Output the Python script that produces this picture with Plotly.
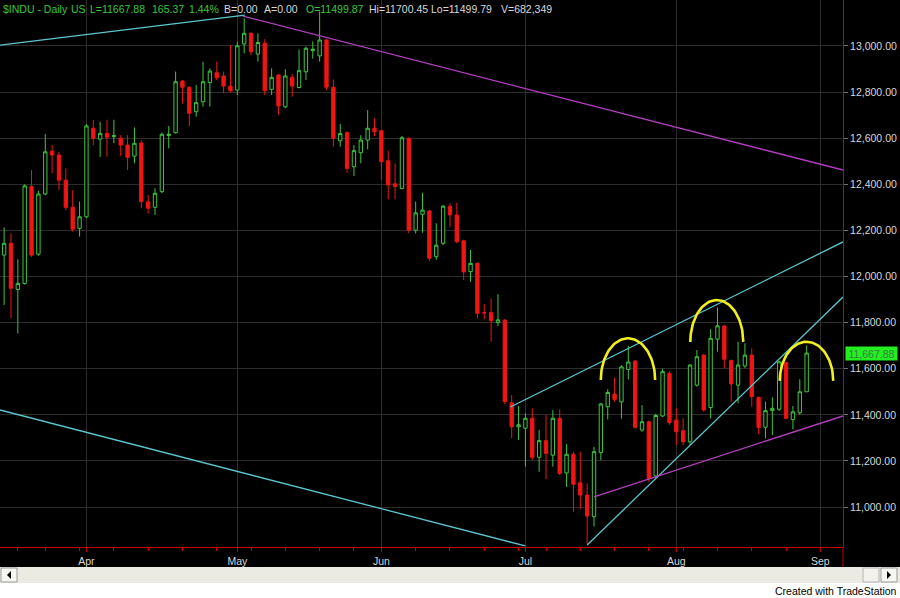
import numpy as np
import plotly.graph_objects as go

# ---------------- data ($INDU daily, 13 Mar - 28 Aug 2008) ----------------
opens = [12093, 12144, 11944, 11970, 12390, 12097, 12358, 12544, 12527, 12418,
         12300, 12209, 12259, 12643, 12596, 12621, 12607, 12600, 12570, 12522,
         12579, 12324, 12300, 12368, 12612, 12624, 12848, 12821, 12715, 12758,
         12841, 12884, 12870, 12826, 12809, 13009, 13055, 12965, 13012, 12812,
         12874, 12736, 12864, 12820, 12888, 12980, 12957, 13026, 12821, 12589,
         12624, 12476, 12537, 12592, 12643, 12632, 12502, 12402, 12382, 12599,
         12201, 12270, 12284, 12086, 12144, 12305, 12267, 12155, 12021, 12057,
         11843, 11843, 11800, 11811, 11452, 11348, 11342, 11385, 11216, 11288,
         11225, 11385, 11148, 11229, 11105, 11052, 10958, 11236, 11435, 11490,
         11456, 11597, 11633, 11334, 11370, 11135, 11395, 11580, 11377, 11331,
         11283, 11529, 11659, 11432, 11728, 11785, 11635, 11529, 11612, 11659,
         11475, 11346, 11418, 11424, 11626, 11380, 11409, 11499.87]
highs = [12213, 12187, 12075, 12400, 12462, 12372, 12618, 12570, 12541, 12469,
         12375, 12325, 12662, 12679, 12671, 12680, 12680, 12613, 12613, 12647,
         12590, 12354, 12383, 12625, 12653, 12889, 12852, 12825, 12831, 12932,
         12903, 12932, 12889, 13004, 13019, 13120, 13060, 13055, 13029, 12903,
         12878, 12899, 12878, 12985, 12997, 13020, 13150, 13030, 12855, 12662,
         12630, 12570, 12613, 12722, 12686, 12636, 12546, 12491, 12610, 12605,
         12325, 12363, 12290, 12231, 12310, 12318, 12320, 12160, 12115, 12062,
         11880, 11905, 11923, 11815, 11486, 11438, 11407, 11428, 11334, 11399,
         11420, 11424, 11273, 11240, 11240, 11103, 11261, 11452, 11511, 11562,
         11615, 11699, 11638, 11442, 11375, 11405, 11600, 11590, 11428, 11385,
         11620, 11681, 11664, 11771, 11866, 11790, 11640, 11717, 11710, 11688,
         11480, 11457, 11476, 11635, 11630, 11438, 11554, 11700.45]
lows = [11876, 11819, 11753, 11965, 12085, 12090, 12352, 12448, 12375, 12288,
        12194, 12173, 12254, 12570, 12519, 12519, 12578, 12523, 12462, 12491,
        12296, 12274, 12267, 12362, 12556, 12620, 12751, 12653, 12693, 12737,
        12737, 12852, 12795, 12797, 12787, 12968, 12960, 12932, 12787, 12787,
        12701, 12730, 12780, 12816, 12852, 12945, 12932, 12808, 12563, 12563,
        12450, 12436, 12491, 12552, 12609, 12420, 12335, 12335, 12378, 12187,
        12187, 12190, 12066, 12072, 12136, 12215, 12144, 11985, 11977, 11819,
        11814, 11717, 11785, 11445, 11298, 11291, 11175, 11204, 11153, 11120,
        11175, 11139, 11087, 10979, 10990, 10840, 10915, 11204, 11380, 11456,
        11384, 11553, 11340, 11326, 11110, 11126, 11390, 11357, 11269, 11269,
        11270, 11522, 11414, 11384, 11674, 11602, 11457, 11450, 11602, 11435,
        11317, 11298, 11312, 11417, 11380, 11337, 11399, 11499.79]
closes = [12144, 11949, 11970, 12393, 12093, 12358, 12541, 12527, 12418, 12300,
          12205, 12259, 12653, 12600, 12621, 12604, 12611, 12570, 12517, 12578,
          12325, 12296, 12361, 12617, 12617, 12845, 12821, 12708, 12754, 12845,
          12891, 12862, 12826, 12806, 13001, 13055, 12975, 13015, 12806, 12864,
          12740, 12870, 12826, 12893, 12990, 12986, 13026, 12821, 12600, 12620,
          12469, 12546, 12592, 12643, 12628, 12498, 12397, 12390, 12602, 12201,
          12276, 12288, 12079, 12136, 12305, 12267, 12151, 12020, 12057, 11840,
          11842, 11808, 11812, 11457, 11348, 11357, 11385, 11216, 11288, 11233,
          11385, 11146, 11229, 11099, 11052, 10961, 11240, 11447, 11497, 11467,
          11608, 11629, 11346, 11370, 11124, 11397, 11587, 11366, 11327, 11283,
          11616, 11652, 11421, 11732, 11786, 11641, 11534, 11616, 11659, 11479,
          11345, 11418, 11428, 11630, 11385, 11413, 11500, 11667.88]

month_labels = ["Apr", "May", "Jun", "Jul", "Aug", "Sep"]
month_bar_index = [12, 34, 55, 76, 98, 119]          # first trading bar of each month
monday_bar_index = [2, 6, 11, 16, 21, 26, 31, 36, 41, 46, 51, 55, 60, 65, 70, 75,
                    79, 84, 89, 94, 99, 104, 109, 114, 119]
price_ticks = [11000, 11200, 11400, 11600, 11800, 12000, 12200, 12400, 12600, 12800, 13000]

# hand-drawn trendlines: (bar index, price) endpoints
trend_x = [[-0.6, 35.1], [34.8, 122.3], [-0.6, 76.0], [73.8, 122.3], [85.0, 122.3], [86.0, 122.3]]
trend_y = [[13004, 13134], [13130, 12462], [11421, 10831], [11434, 12150], [10835, 11911], [11044, 11395]]
trend_col = ["#5cc6cf", "#b43fc0", "#5cc6cf", "#5cc6cf", "#5cc6cf", "#b43fc0"]

# yellow arches: centre bar index, base price, half width (bars), height (points)
arc_cx = [90.95, 103.9, 116.98]
arc_base = [11551, 11716, 11547]
arc_rx = [3.96, 3.86, 3.9]
arc_ry = [181, 182, 170]

last_price = 11667.88

# ---------------- styling ----------------
UP = "#3fc63f"
DN = "#ee1515"
GRID = "#2c2c2c"
AXRED = "#c80000"
TXT = "#d8d8d8"
GREEN_TXT = "#38c838"
FONT = "Liberation Sans, Arial, sans-serif"
FS = 10.5

PLOT_R = 843.0
PLOT_B = 547.0


def px(xp):
    return xp / PLOT_R


def py(yp):
    return (PLOT_B - yp) / PLOT_B


fig = go.Figure()

fig.add_trace(go.Candlestick(
    x=list(range(len(opens))), open=opens, high=highs, low=lows, close=closes,
    increasing=dict(line=dict(color=UP, width=1), fillcolor="black"),
    decreasing=dict(line=dict(color=DN, width=1), fillcolor=DN),
    whiskerwidth=0, hoverinfo="skip", showlegend=False,
))

for tx, ty, tc in zip(trend_x, trend_y, trend_col):
    fig.add_trace(go.Scatter(x=tx, y=ty, mode="lines", line=dict(color=tc, width=1.3),
                             hoverinfo="skip", showlegend=False))

theta = np.linspace(0, np.pi, 60)
for cx, cb, rx, ry in zip(arc_cx, arc_base, arc_rx, arc_ry):
    fig.add_trace(go.Scatter(x=cx + rx * np.cos(theta), y=cb + ry * np.sin(theta), mode="lines",
                             line=dict(color="#f2f01c", width=2.6), hoverinfo="skip", showlegend=False))

fig.update_layout(
    width=900, height=598,
    margin=dict(l=0, r=57, t=0, b=51),
    paper_bgcolor="black", plot_bgcolor="black",
    showlegend=False,
    xaxis=dict(
        range=[-0.6, 122.3], tickvals=month_bar_index, ticktext=month_labels,
        showgrid=True, gridcolor=GRID, gridwidth=1, zeroline=False,
        showline=True, linecolor=AXRED, linewidth=1,
        ticks="outside", ticklen=4, tickcolor=AXRED,
        minor=dict(tickvals=monday_bar_index, ticks="outside", ticklen=3, tickcolor=AXRED, showgrid=False),
        tickfont=dict(family=FONT, size=FS, color=TXT),
        rangeslider=dict(visible=False), fixedrange=True,
    ),
    yaxis=dict(
        side="right", range=[10826.6, 13199.5],
        tickvals=price_ticks, ticktext=[f"{v:,.2f}" for v in price_ticks],
        showgrid=True, gridcolor=GRID, gridwidth=1, zeroline=False,
        showline=True, linecolor=AXRED, linewidth=1,
        ticks="outside", ticklen=4, tickcolor="#707070",
        tickfont=dict(family=FONT, size=FS, color=TXT), fixedrange=True,
    ),
)

# header tokens
header = [("$INDU - Daily", 2, GREEN_TXT), ("US", 70, GREEN_TXT), ("L=11667.88", 89, GREEN_TXT),
          ("165.37", 151, GREEN_TXT), ("1.44%", 188, GREEN_TXT), ("B=0.00", 223, TXT),
          ("A=0.00", 263, TXT), ("O=11499.87", 305, GREEN_TXT), ("Hi=11700.45", 368, TXT),
          ("Lo=11499.79", 430, TXT), ("V=682,349", 500, TXT)]
annotations = []
for t, xp, c in header:
    annotations.append(dict(text=t, x=px(xp), y=py(9), xref="paper", yref="paper",
                            xanchor="left", yanchor="middle", showarrow=False, borderpad=0,
                            font=dict(family=FONT, size=FS, color=c)))

annotations.append(dict(text=f"{last_price:,.2f}", x=px(871.5), y=last_price, xref="paper", yref="y",
                        xanchor="center", yanchor="middle", showarrow=False, bgcolor="#22ee22",
                        width=51, height=13, borderpad=0,
                        font=dict(family=FONT, size=FS, color="#3a7f3a")))
annotations.append(dict(text="Created with TradeStation", x=px(898), y=py(591), xref="paper", yref="paper",
                        xanchor="right", yanchor="middle", showarrow=False, borderpad=0,
                        font=dict(family=FONT, size=FS, color="black")))

shapes = [
    dict(type="line", xref="paper", yref="paper", x0=px(843), x1=px(843), y0=py(547), y1=py(567),
         line=dict(color=AXRED, width=1)),
    dict(type="rect", xref="paper", yref="paper", x0=px(0), x1=px(900), y0=py(600), y1=py(583),
         fillcolor="white", line=dict(width=0)),
    dict(type="rect", xref="paper", yref="paper", x0=px(0), x1=px(900), y0=py(583), y1=py(567),
         fillcolor="#ecebe3", line=dict(width=0)),
    dict(type="rect", xref="paper", yref="paper", x0=px(1), x1=px(17), y0=py(582), y1=py(568),
         fillcolor="#f6f6f2", line=dict(color="#9a9a9a", width=1)),
    dict(type="rect", xref="paper", yref="paper", x0=px(881), x1=px(897), y0=py(582), y1=py(568),
         fillcolor="#f6f6f2", line=dict(color="#9a9a9a", width=1)),
    dict(type="rect", xref="paper", yref="paper", x0=px(863), x1=px(879), y0=py(582), y1=py(568),
         fillcolor="#f2f1ec", line=dict(color="#b4b4b4", width=1)),
    dict(type="path", xref="paper", yref="paper",
         path=f"M {px(7)} {py(575)} L {px(11)} {py(571)} L {px(11)} {py(579)} Z",
         fillcolor="black", line=dict(width=0)),
    dict(type="path", xref="paper", yref="paper",
         path=f"M {px(891)} {py(575)} L {px(887)} {py(571)} L {px(887)} {py(579)} Z",
         fillcolor="black", line=dict(width=0)),
]

fig.update_layout(annotations=annotations, shapes=shapes)
fig.write_html("out.html", config={"displayModeBar": False, "staticPlot": True},
               post_script="document.body.style.margin='0';document.body.style.overflow='hidden';")
